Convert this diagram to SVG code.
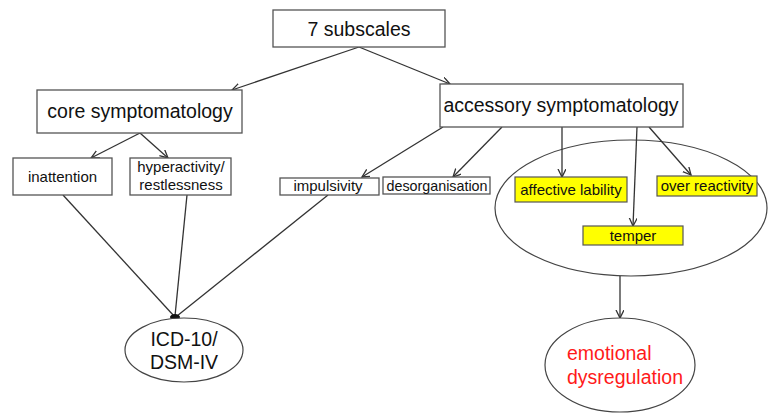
<svg xmlns="http://www.w3.org/2000/svg" width="770" height="414" viewBox="0 0 770 414">
<style>
text{font-family:"Liberation Sans",Arial,sans-serif;fill:#111}
.big{font-size:19.5px}
.sm{font-size:15px}
.box{fill:#fff;stroke:#555;stroke-width:1.3}
.yel{fill:#ffff00;stroke:#555;stroke-width:1.2}
.ell{fill:#fff;stroke:#444;stroke-width:1.2}
.con line{stroke:#333;stroke-width:1.3}
.red{fill:#ff1a1a}
</style>
<defs>
<marker id="ah" markerUnits="userSpaceOnUse" markerWidth="10" markerHeight="9" refX="8" refY="4" orient="auto">
<path d="M0,0 L8,4 L0,8" fill="none" stroke="#333" stroke-width="1.3"/>
</marker>
</defs>
<rect width="770" height="414" fill="#fff"/>
<g id="n-emoellipse"><ellipse class="ell" cx="631" cy="208" rx="136" ry="68"/></g>
<g class="con" id="connectors">
<line x1="359" y1="47" x2="232" y2="90" marker-end="url(#ah)"/>
<line x1="359" y1="47" x2="450" y2="84" marker-end="url(#ah)"/>
<line x1="140" y1="133" x2="91" y2="158" marker-end="url(#ah)"/>
<line x1="140" y1="133" x2="168" y2="158" marker-end="url(#ah)"/>
<line x1="443" y1="127" x2="362" y2="177" marker-end="url(#ah)"/>
<line x1="502" y1="127" x2="453" y2="177" marker-end="url(#ah)"/>
<line x1="562" y1="127" x2="562" y2="177" marker-end="url(#ah)"/>
<line x1="637" y1="127" x2="633" y2="226" marker-end="url(#ah)"/>
<line x1="649" y1="127" x2="691" y2="175" marker-end="url(#ah)"/>
<line x1="620" y1="276" x2="620" y2="318" marker-end="url(#ah)"/>
<line x1="63" y1="195" x2="174" y2="316"/>
<line x1="187" y1="195" x2="175" y2="316"/>
<line x1="328" y1="195" x2="177" y2="316"/>
<ellipse cx="175" cy="317" rx="5" ry="3" fill="#111"/>
</g>
<g id="n-7subscales"><rect class="box" x="273" y="10" width="172" height="37"/><text class="big" x="359" y="36" text-anchor="middle">7 subscales</text></g>
<g id="n-core"><rect class="box" x="37" y="90" width="205" height="43"/><text class="big" x="140" y="118" text-anchor="middle">core symptomatology</text></g>
<g id="n-accessory"><rect class="box" x="440" y="84" width="243" height="43"/><text class="big" x="561" y="112" text-anchor="middle">accessory symptomatology</text></g>
<g id="n-inattention"><rect class="box" x="13" y="158" width="99" height="37"/><text class="sm" x="62.5" y="182" text-anchor="middle">inattention</text></g>
<g id="n-hyper"><rect class="box" x="130" y="158" width="101" height="37"/><text class="sm" x="181" y="172" text-anchor="middle">hyperactivity/</text><text class="sm" x="181" y="190" text-anchor="middle">restlessness</text></g>
<g id="n-impulsivity"><rect class="box" x="280" y="178" width="99" height="17"/><text class="sm" x="328" y="191" text-anchor="middle">impulsivity</text></g>
<g id="n-desorg"><rect class="box" x="383" y="177" width="107" height="17"/><text class="sm" x="437" y="191" text-anchor="middle" textLength="101" lengthAdjust="spacingAndGlyphs">desorganisation</text></g>
<g id="n-affective"><rect class="yel" x="515" y="177" width="112" height="25"/><text class="sm" x="571" y="195" text-anchor="middle">affective lability</text></g>
<g id="n-over"><rect class="yel" x="657" y="176" width="100" height="20"/><text class="sm" x="707" y="191" text-anchor="middle">over reactivity</text></g>
<g id="n-temper"><rect class="yel" x="583" y="226" width="100" height="19"/><text class="sm" x="633" y="241" text-anchor="middle">temper</text></g>
<g id="n-icd"><ellipse class="ell" cx="184" cy="350" rx="59" ry="32"/><text class="big" x="184" y="346" text-anchor="middle">ICD-10/</text><text class="big" x="184" y="369" text-anchor="middle">DSM-IV</text></g>
<g id="n-emotional"><ellipse class="ell" cx="620" cy="365" rx="75" ry="47"/><text class="big red" x="567" y="360">emotional</text><text class="big red" x="567" y="384">dysregulation</text></g>
</svg>
